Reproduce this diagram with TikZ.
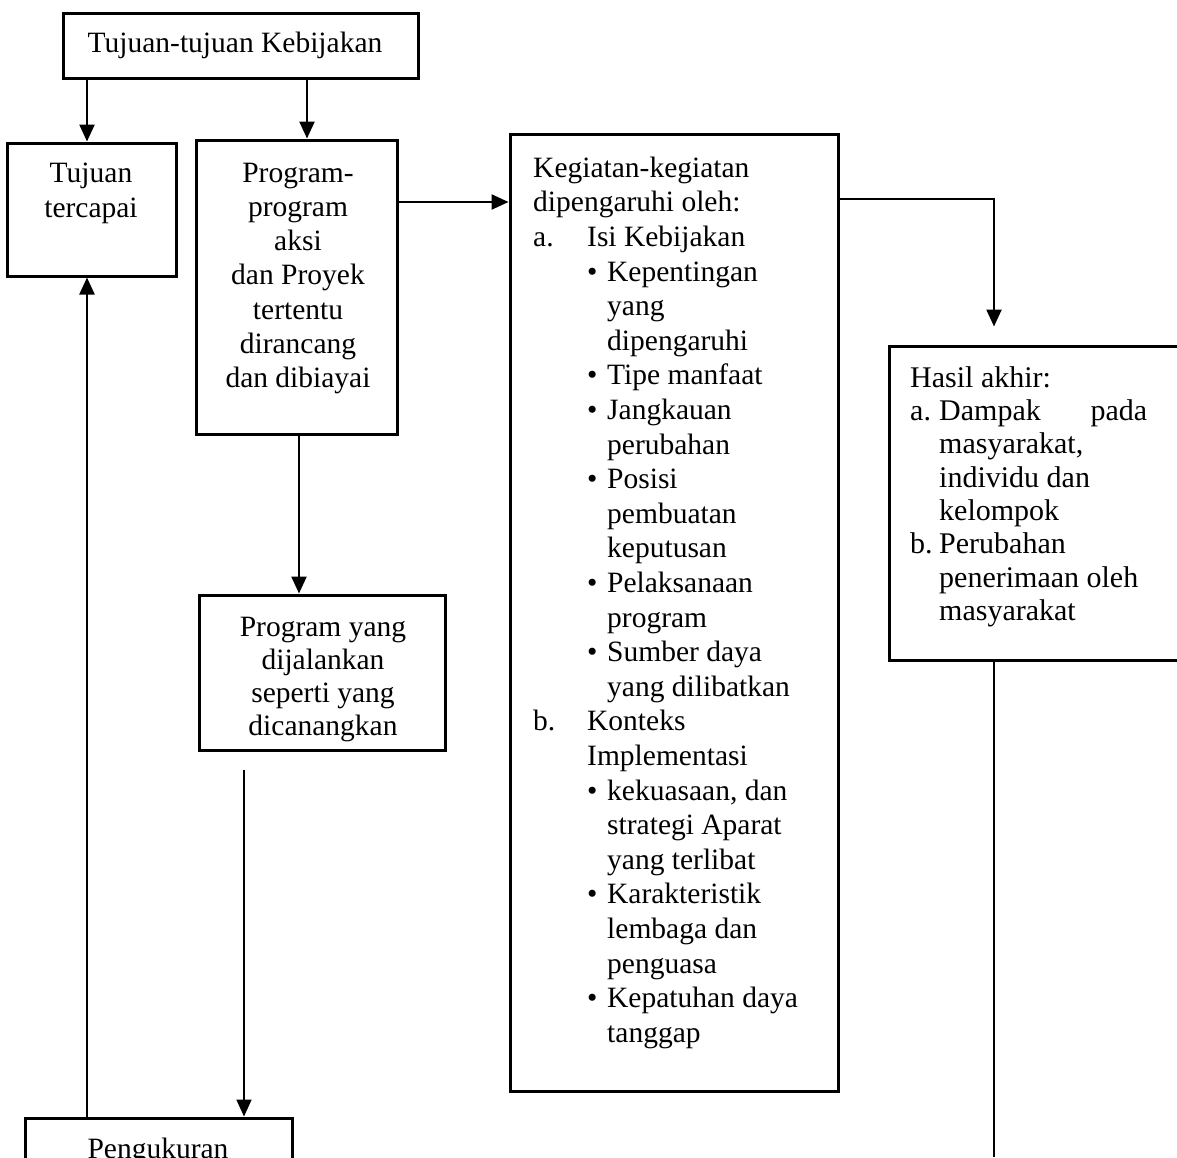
\documentclass[tikz,border=0pt]{standalone}
\usepackage{fontspec}
\setmainfont{Liberation Serif}
\usetikzlibrary{arrows.meta,fit}
\tikzset{
	box/.style={draw, line width=3pt, inner sep=0pt},
	txt/.style={inner sep=0pt, font=\fontsize{29.5}{34}\selectfont},
	arr/.style={line width=2.4pt, -{Triangle[length=17pt,width=15pt]}},
}
\newcommand{\itm}[1]{\makebox[54pt][l]{#1}}
\newcommand{\pnt}{\hspace*{54pt}\makebox[20pt][l]{\textbullet}}
\newcommand{\cont}{\hspace*{74pt}}
\newcommand{\hsl}[1]{\makebox[29pt][l]{#1}}

\begin{document}
\begin{tikzpicture}[x=1pt,y=-1pt]
	\clip (0,0) rectangle (1177,1157);
	% kotak
	\node[box, fit={(63,13) (418,78)}] (goal) {};
	\node[box, fit={(7,143) (176,276)}] (reach) {};
	\node[box, fit={(196,140) (397,434)}] (prog) {};
	\node[box, fit={(199,595) (445,750)}] (run) {};
	\node[box, fit={(510,134) (838,1091)}] (act) {};
	\node[box, fit={(889,346) (1220,660)}] (out) {};
	\node[box, fit={(25,1118) (292,1200)}] (meas) {};
	% teks
	\node[txt, anchor=base] (goalT) at (235,52) {Tujuan-tujuan Kebijakan};
	\node[txt, anchor=north, align=center, font=\fontsize{29.5}{35}\selectfont] (reachT) at (91,157.5) {\strut Tujuan\\tercapai};
	\node[txt, anchor=north, align=center, font=\fontsize{29.5}{34.2}\selectfont] (progT) at (298,158.1) {\strut Program-\\program\\aksi\\dan Proyek\\tertentu\\dirancang\\dan dibiayai};
	\node[txt, anchor=north, align=center, font=\fontsize{29.5}{33}\selectfont] (runT) at (323,612.9) {\strut Program yang\\dijalankan\\seperti yang\\dicanangkan};
	\node[txt, anchor=north west, align=left, font=\fontsize{29.5}{34.6}\selectfont] (actT) at (533,152.8) {\strut Kegiatan-kegiatan\\
		dipengaruhi oleh:\\
		\itm{a.}Isi Kebijakan\\
		\pnt Kepentingan\\
		\cont yang\\
		\cont dipengaruhi\\
		\pnt Tipe manfaat\\
		\pnt Jangkauan\\
		\cont perubahan\\
		\pnt Posisi\\
		\cont pembuatan\\
		\cont keputusan\\
		\pnt Pelaksanaan\\
		\cont program\\
		\pnt Sumber daya\\
		\cont yang dilibatkan\\
		\itm{b.}Konteks\\
		\hspace*{54pt}Implementasi\\
		\pnt kekuasaan, dan\\
		\cont strategi Aparat\\
		\cont yang terlibat\\
		\pnt Karakteristik\\
		\cont lembaga dan\\
		\cont penguasa\\
		\pnt Kepatuhan daya\\
		\cont tanggap};
	\node[txt, anchor=north west, align=left, font=\fontsize{30}{33.3}\selectfont] (outT) at (910,363.7) {\strut Hasil akhir:\\
		\hsl{a.}\makebox[208pt][l]{Dampak\hfill pada}\\
		\hspace*{29pt}masyarakat,\\
		\hspace*{29pt}individu dan\\
		\hspace*{29pt}kelompok\\
		\hsl{b.}Perubahan\\
		\hspace*{29pt}penerimaan oleh\\
		\hspace*{29pt}masyarakat};
	\node[txt, anchor=base] (measT) at (158,1158) {Pengukuran};
	% panah
	\coordinate (xl) at (87,0);
	\coordinate (xg) at (307,0);
	\coordinate (xp) at (299,0);
	\coordinate (xr) at (244,0);
	\coordinate (ya) at (0,202);
	\coordinate (turn) at (994,199);
	\coordinate (outEnd) at (994,1157);
	\draw[arr] (goal.south -| xl) -- (reach.north -| xl);
	\draw[arr] (goal.south -| xg) -- (prog.north -| xg);
	\draw[arr] (prog.east |- ya) -- (act.west |- ya);
	\draw[arr, shorten >=18pt] (act.east |- turn) -- (turn) -- (out.north -| turn);
	\draw[arr] (prog.south -| xp) -- (run.north -| xp);
	\draw[arr, line width=1.8pt, shorten <=18pt] (run.south -| xr) -- (meas.north -| xr);
	\draw[arr] (meas.north -| xl) -- (reach.south -| xl);
	\draw[line width=2.4pt] (out.south -| turn) -- (outEnd);
\end{tikzpicture}
\end{document}
